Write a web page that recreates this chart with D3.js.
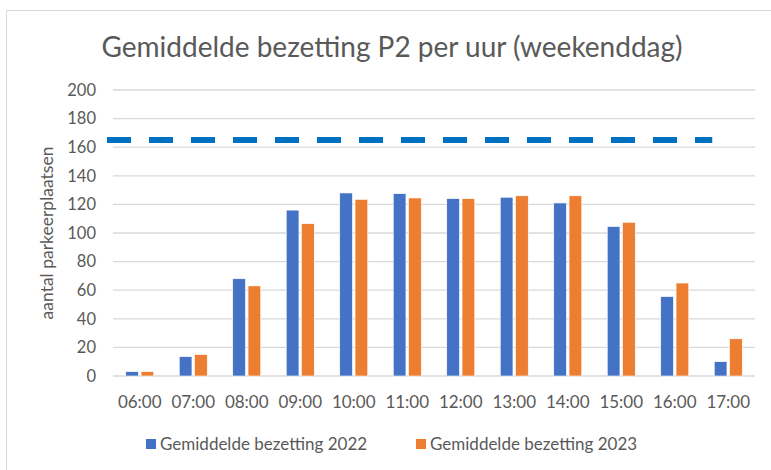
<!DOCTYPE html>
<head>
  <meta charset="utf-8">
  <script src="https://cdn.jsdelivr.net/npm/d3@7"></script>
  <style>
    body { margin:0; background:#fff; }
    text { font-family: Lato, "Open Sans", sans-serif; fill:#595959; }
  </style>
</head>
<body>
<script>
  var hours = ["06:00","07:00","08:00","09:00","10:00","11:00","12:00","13:00","14:00","15:00","16:00","17:00"];
  var bezetting2022 = [3, 13.5, 68, 116, 128, 127.5, 124, 125, 121, 104.5, 55.5, 10];
  var bezetting2023 = [3, 15, 63, 106.5, 123.5, 124.5, 124, 126, 126, 107.5, 65, 26];
  var capaciteit = 165;
  var yTicks = [0, 20, 40, 60, 80, 100, 120, 140, 160, 180, 200];
  var seriesNames = ["Gemiddelde bezetting 2022", "Gemiddelde bezetting 2023"];
  var colors = ["#4472C4", "#ED7D31"];

  var width = 771, height = 470;
  var svg = d3.select("body").append("svg")
    .attr("width", width)
    .attr("height", height);

  // chart frame
  svg.append("rect")
    .attr("x", 6.5).attr("y", 10.5)
    .attr("width", 800).attr("height", 500)
    .attr("fill", "none")
    .attr("stroke", "#d9d9d9");

  var x = d3.scaleBand().domain(hours).range([113, 755]);
  var y = d3.scaleLinear().domain([0, 200]).range([376, 90]);

  // gridlines
  svg.append("g").selectAll("line")
    .data(yTicks)
    .enter().append("line")
    .attr("x1", 113).attr("x2", 755)
    .attr("y1", function(d) { return y(d); })
    .attr("y2", function(d) { return y(d); })
    .attr("stroke", "#d9d9d9")
    .attr("stroke-width", 1.3);

  // y labels
  svg.append("g").selectAll("text")
    .data(yTicks)
    .enter().append("text")
    .attr("x", 96)
    .attr("y", function(d) { return y(d); })
    .attr("dy", "0.35em")
    .attr("text-anchor", "end")
    .style("font-size", "16.5px")
    .text(function(d) { return d; });

  // x labels
  svg.append("g").selectAll("text")
    .data(hours)
    .enter().append("text")
    .attr("x", function(d) { return x(d) + x.bandwidth() / 2; })
    .attr("y", 408)
    .attr("text-anchor", "middle")
    .style("font-size", "17px")
    .text(function(d) { return d; });

  var barW = 12.7, gap = 2.6;
  var series = [bezetting2022, bezetting2023];
  series.forEach(function(vals, s) {
    svg.append("g").selectAll("rect")
      .data(vals)
      .enter().append("rect")
      .attr("x", function(d, i) {
        var c = x(hours[i]) + x.bandwidth() / 2;
        return s == 0 ? c - gap / 2 - barW : c + gap / 2;
      })
      .attr("y", function(d) { return y(d); })
      .attr("width", barW)
      .attr("height", function(d) { return y(0) - y(d); })
      .attr("fill", colors[s])
      .attr("stroke", "#fff")
      .attr("stroke-width", 0.6);
  });

  // capacity line
  svg.append("line")
    .attr("x1", x.range()[0] - 6)
    .attr("x2", x("17:00") + x.bandwidth() / 2 - 16)
    .attr("y1", y(capaciteit))
    .attr("y2", y(capaciteit))
    .attr("stroke", "#0070C0")
    .attr("stroke-width", 6)
    .attr("stroke-dasharray", "24,18");

  // title
  svg.append("text")
    .attr("x", 392).attr("y", 57)
    .attr("text-anchor", "middle")
    .style("font-size", "28px")
    .text("Gemiddelde bezetting P2 per uur (weekenddag)");

  // y axis title
  svg.append("text")
    .attr("transform", "translate(53," + y(100) + ") rotate(-90)")
    .attr("text-anchor", "middle")
    .style("font-size", "17.5px")
    .text("aantal parkeerplaatsen");

  // legend
  var legX = [146, 416];
  seriesNames.forEach(function(name, s) {
    svg.append("rect")
      .attr("x", legX[s]).attr("y", 439)
      .attr("width", 10).attr("height", 10)
      .attr("fill", colors[s]);
    svg.append("text")
      .attr("x", legX[s] + 14).attr("y", 450)
      .style("font-size", "17px")
      .text(name);
  });
</script>
</body>
